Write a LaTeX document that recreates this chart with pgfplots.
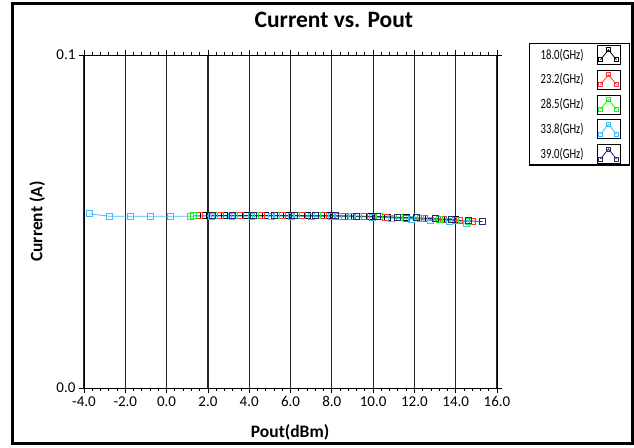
\documentclass[border=0pt]{standalone}
\usepackage{pgfplots}
\pgfplotsset{compat=1.18}
\usepackage{fontspec}
\setmainfont{Carlito}
\newfontfamily\condfont[FakeStretch=0.76]{Carlito}
\definecolor{c18}{HTML}{000000}
\definecolor{c23}{HTML}{FF3333}
\definecolor{c28}{HTML}{22EE22}
\definecolor{c33}{HTML}{44BBFF}
\definecolor{c39}{HTML}{2A2A6A}
\begin{document}
\begin{tikzpicture}[x=1pt,y=1pt]
\useasboundingbox (0,0) rectangle (634,447);
\draw[line width=3pt] (12,4) rectangle (632,443);
\begin{axis}[
  at={(84pt,59pt)}, anchor=south west,
  scale only axis, width=413pt, height=333pt,
  xmin=-4, xmax=16, ymin=0, ymax=0.1,
  xtick={-4,-2,...,16}, minor x tick num=4,
  ytick={0,0.1},
  tick align=outside,
  major tick length=5pt, minor tick length=3pt,
  xmajorgrids, major grid style={black!85, line width=1.2pt},
  axis line style={black, line width=0.8pt},
  tick style={black, line width=0.8pt},
  xticklabel style={/pgf/number format/.cd, fixed, fixed zerofill, precision=1, assume math mode=true},
  yticklabel style={/pgf/number format/.cd, fixed, fixed zerofill, precision=1, assume math mode=true},
  ticklabel style={font=\fontsize{15}{17}\selectfont},
  xlabel={Pout(dBm)}, ylabel={Current (A)},
  label style={font=\bfseries\fontsize{17.5}{19}\selectfont},
  xlabel style={at={(axis description cs:0.499,-0.132)}, anchor=center},
  ylabel style={at={(axis description cs:-0.113,0.5)}, anchor=center},
  title={Current vs. Pout},
  title style={font=\bfseries\fontsize{23.5}{26}\selectfont, at={(axis description cs:0.605,1.088)}, anchor=center},
  legend plot pos=right,
  legend cell align=left,
  legend image code/.code={
    \draw[black, line width=0.8pt, fill=white] (0pt,-9.5pt) rectangle (23pt,9.5pt);
    \draw[#1, mark size=2pt] plot coordinates {(3.5pt,-5pt) (11.5pt,5pt) (19.5pt,-5pt)};
  },
  legend style={at={(axis description cs:1.0775,1.036)}, anchor=north west,
    draw=black, line width=1.4pt, font=\condfont\fontsize{14}{16}\selectfont,
    row sep=5pt, column sep=11pt, inner xsep=9pt, inner ysep=1.2pt},
  every axis plot/.append style={line width=0.8pt, mark=square, mark size=3pt, mark options={solid, line width=0.9pt}},
]
\addplot[c18] coordinates {(1.8,0.0518) (2.8,0.0518) (3.8,0.0518) (4.8,0.0518) (5.8,0.0518) (6.8,0.0517) (7.8,0.0517) (8.8,0.0516) (9.8,0.0515) (10.7,0.0513) (11.6,0.0511) (12.4,0.0509) (13.3,0.0507) (14.0,0.0505)};
\addlegendentry{18.0(GHz)}
\addplot[c23] coordinates {(1.6,0.0518) (2.6,0.0518) (3.6,0.0518) (4.6,0.0518) (5.6,0.0518) (6.6,0.0517) (7.6,0.0517) (8.6,0.0516) (9.6,0.0515) (10.6,0.0513) (11.6,0.0510) (12.5,0.0508) (13.4,0.0505) (14.2,0.0502) (14.8,0.0500)};
\addlegendentry{23.2(GHz)}
\addplot[c28] coordinates {(1.3,0.0518) (2.3,0.0518) (3.3,0.0518) (4.3,0.0518) (5.3,0.0518) (6.3,0.0517) (7.3,0.0517) (8.3,0.0516) (9.3,0.0515) (10.3,0.0514) (11.3,0.0511) (12.3,0.0508) (13.2,0.0505) (14.0,0.0502) (14.6,0.0500)};
\addlegendentry{28.5(GHz)}
\addplot[c33] coordinates {(-3.74,0.0523) (-2.79,0.0516) (-1.77,0.0516) (-0.80,0.0516) (0.20,0.0516) (1.17,0.0516) (2.15,0.0516) (3.12,0.0516) (4.10,0.0516) (5.07,0.0516) (6.05,0.0516) (7.02,0.0515) (8.0,0.0515) (8.97,0.0514) (9.95,0.0513) (10.9,0.0510) (11.85,0.0507) (12.8,0.0503) (13.7,0.0499) (14.5,0.0495)};
\addlegendentry{33.8(GHz)}
\addplot[c39] coordinates {(2.2,0.0518) (3.2,0.0518) (4.2,0.0518) (5.2,0.0518) (6.2,0.0518) (7.2,0.0517) (8.2,0.0517) (9.2,0.0516) (10.2,0.0515) (11.2,0.0513) (12.1,0.0511) (13.0,0.0508) (13.8,0.0506) (14.6,0.0502) (15.3,0.0500)};
\addlegendentry{39.0(GHz)}
\end{axis}
\end{tikzpicture}
\end{document}
